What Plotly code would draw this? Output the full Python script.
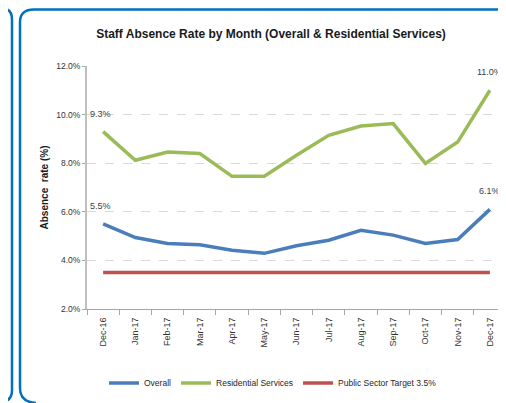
import plotly.graph_objects as go

# data
months = ["Dec-16", "Jan-17", "Feb-17", "Mar-17", "Apr-17", "May-17", "Jun-17",
          "Jul-17", "Aug-17", "Sep-17", "Oct-17", "Nov-17", "Dec-17"]
overall = [5.5, 4.94, 4.70, 4.64, 4.42, 4.29, 4.6, 4.83, 5.24, 5.04, 4.70, 4.86, 6.1]
residential = [9.3, 8.12, 8.46, 8.40, 7.46, 7.46, 8.33, 9.15, 9.53, 9.63, 7.99, 8.87, 11.0]
target = [3.5] * len(months)

# the page body has an 8px margin, so the figure is shrunk and shifted by it
OFF = 8
W, H = 506 - OFF, 403 - OFF
ML, MR, MT, MB = 87 - OFF, 0, 66 - OFF, 94
FONT = "Liberation Sans, Arial, sans-serif"

fig = go.Figure()
fig.add_trace(go.Scatter(x=months, y=overall, name="Overall", mode="lines",
                         line=dict(color="#4A7EBB", width=3.5)))
fig.add_trace(go.Scatter(x=months, y=residential, name="Residential Services", mode="lines",
                         line=dict(color="#9BBB59", width=3.5)))
fig.add_trace(go.Scatter(x=months, y=target, name="Public Sector Target 3.5%", mode="lines",
                         line=dict(color="#C0504D", width=3.5)))

# data labels on first and last points only
labels = []
for series in (overall, residential):
    for i, xs in ((0, -3), (-1, 0)):
        labels.append(dict(x=months[i], y=series[i], text="%.1f%%" % series[i],
                           showarrow=False, yshift=18, xshift=xs, yanchor="middle",
                           font=dict(size=9, color="#404040")))

# page pixel -> paper coords
pw, ph = W - ML - MR, H - MT - MB


def px(x):
    return (x - OFF - ML) / pw


def py(y):
    return (H - MB - (y - OFF)) / ph


def path(pts):
    s = ""
    for cmd, coords in pts:
        s += cmd + " " + " ".join("%.4f,%.4f" % (px(a), py(b)) for a, b in coords) + " "
    return s.strip()


left_panel = path([("M", [(4, 9)]), ("Q", [(12, 9), (12, 20)]), ("L", [(12, 390)]),
                   ("Q", [(12, 402), (0, 402)])])
right_panel = path([("M", [(36, 403)]), ("Q", [(20, 402), (20, 388)]), ("L", [(20, 22)]),
                    ("Q", [(20, 9.5), (34, 9.5)]), ("L", [(507, 9.5)])])

fig.update_layout(
    width=W, height=H,
    margin=dict(l=ML, r=MR, t=MT, b=MB, autoexpand=False),
    paper_bgcolor="white", plot_bgcolor="white",
    font=dict(family=FONT, size=8.5, color="#333333"),
    title=dict(text="<b>Staff Absence Rate by Month (Overall & Residential Services)</b>",
               x=(271 - OFF) / W, xanchor="center", y=1 - (34 - OFF) / H, yanchor="middle",
               font=dict(size=12, color="#1a1a1a", family=FONT)),
    showlegend=True,
    legend=dict(orientation="h", x=px(273), xanchor="center", y=py(383), yanchor="middle",
                font=dict(size=8.5, color="#262626"), itemwidth=30, tracegroupgap=0),
    annotations=labels,
    shapes=[
        dict(type="path", path=left_panel, xref="paper", yref="paper",
             line=dict(color="#0070C0", width=2.5)),
        dict(type="path", path=right_panel, xref="paper", yref="paper",
             line=dict(color="#0070C0", width=2.5)),
    ],
)

fig.update_xaxes(type="category", tickson="boundaries", ticks="outside", ticklen=5,
                 tickcolor="#A6A6A6", showline=True, linecolor="#A6A6A6", linewidth=1,
                 tickangle=-90, tickfont=dict(size=9), ticklabelstandoff=4,
                 showgrid=False, automargin=False,
                 range=[-0.5, len(months) - 0.5])
fig.update_yaxes(range=[2, 12], dtick=2, tickformat=".1f", ticksuffix="%",
                 ticks="outside", ticklen=3, tickcolor="#A6A6A6", automargin=False,
                 showline=True, linecolor="#BFBFBF", linewidth=2,
                 showgrid=True, gridcolor="#D9D9D9", griddash="dash", gridwidth=1,
                 zeroline=False,
                 title=dict(text="<b>Absence  rate (%)</b>", standoff=6,
                            font=dict(size=10, color="#1a1a1a")))

fig.write_html("out.html")
